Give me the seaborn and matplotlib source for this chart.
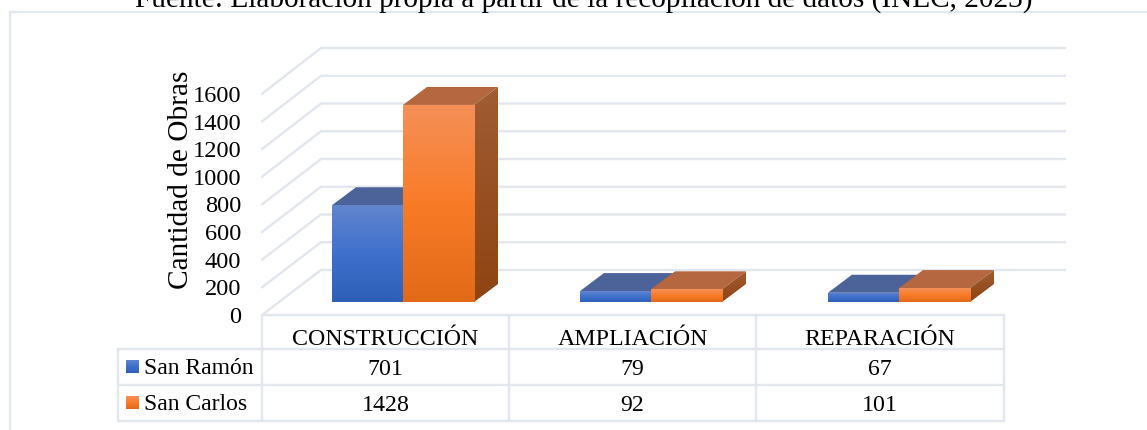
import matplotlib.pyplot as plt
import numpy as np
import pandas as pd
import seaborn as sns
from matplotlib.colors import LinearSegmentedColormap
from matplotlib.patches import Polygon, Rectangle

categories = ["CONSTRUCCIÓN", "AMPLIACIÓN", "REPARACIÓN"]
san_ramon = [701, 79, 67]
san_carlos = [1428, 92, 101]
series_names = ["San Ramón", "San Carlos"]
y_ticks = [0, 200, 400, 600, 800, 1000, 1200, 1400, 1600]
source_text = "Fuente: Elaboración propia a partir de la recopilación de datos (INEC, 2023)"

W, H = 1147, 430
GRID = "#E2E6ED"
LW = 1.7
FRONT = {
    "San Ramón": ["#2E60B8", "#3F70CC", "#6285CE"],
    "San Carlos": ["#E26A17", "#F97B28", "#F59058"],
}
TOP = {"San Ramón": "#4C6399", "San Carlos": "#B5683F"}
SIDE = {"San Ramón": ["#1F4279", "#34568E"], "San Carlos": ["#8F4412", "#A05C33"]}

sns.set_theme(style="white")
plt.rcParams["font.family"] = ["Liberation Serif", "DejaVu Serif"]


def px_axes(fig, left, top, right, bottom, **kw):
    # axes placed by image pixels, y counted from the top
    return fig.add_axes(
        [left / W, 1 - bottom / H, (right - left) / W, (bottom - top) / H], **kw
    )


def gradient(ax, colors, extent, clip, zorder):
    cmap = LinearSegmentedColormap.from_list("g", colors)
    im = ax.imshow(
        np.linspace(1, 0, 64).reshape(-1, 1),
        cmap=cmap,
        extent=extent,
        aspect="auto",
        zorder=zorder,
        vmin=0,
        vmax=1,
    )
    im.set_clip_path(clip)


fig = plt.figure(figsize=(W / 100, H / 100), dpi=100, facecolor="white")

# background in pixel coordinates: frame, walls, table
bg = px_axes(fig, 0, 0, W, H)
bg.set_xlim(0, W)
bg.set_ylim(H, 0)
bg.axis("off")

# frame runs off the right and bottom of the picture
bg.plot([10, 10, W], [H, 11.5, 11.5], color=GRID, lw=LW, solid_joinstyle="miter")
# the source line is cut by the top edge in the original too
bg.text(584, 6.5, source_text, ha="center", va="baseline", fontsize=16.3 * 898 / 695, color="black", clip_on=False)

for i, tick in enumerate(y_ticks):
    front_y = 315 - i * 27.65
    back_y = 270 - i * 27.75
    bg.plot([262, 321, 1065], [front_y, back_y, back_y], color=GRID, lw=LW, solid_joinstyle="miter")

# table
table_x = [262, 509, 756, 1004]
table_y = [315, 349, 385, 420.5]
for x in table_x:
    bg.plot([x, x], [table_y[0], table_y[-1]], color=GRID, lw=LW)
bg.plot([118, 118], [table_y[1], table_y[-1]], color=GRID, lw=LW)
bg.plot([262, 1004], [table_y[0], table_y[0]], color=GRID, lw=LW)
for y in table_y[1:]:
    bg.plot([118, 1004], [y, y], color=GRID, lw=LW)

for i, cat in enumerate(categories):
    xc = (table_x[i] + table_x[i + 1]) / 2
    bg.text(xc, 337, cat, ha="center", va="center_baseline", fontsize=17.2, color="black")
    bg.text(xc, 367, str(san_ramon[i]), ha="center", va="center_baseline", fontsize=17.2, color="black")
    bg.text(xc, 403, str(san_carlos[i]), ha="center", va="center_baseline", fontsize=17.2, color="black")

for name, y in zip(series_names, [366, 402]):
    swatch = Rectangle((126, y - 6), 13, 13, fc="none", ec="none")
    bg.add_patch(swatch)
    gradient(bg, FRONT[name], (126, 139, y + 7, y - 6), swatch, 3)
    bg.text(144, y, name, ha="left", va="center_baseline", fontsize=17, color="black")
bg.set_xlim(0, W)
bg.set_ylim(H, 0)

# front plane: only carries the value axis
front = px_axes(fig, 262, 94, 300, 315)
front.patch.set_alpha(0)
front.set_ylim(0, 1600)
front.set_yticks(y_ticks)
front.set_xticks([])
front.tick_params(axis="y", length=0, pad=15, labelsize=17.6, labelcolor="black")
front.set_ylabel("Cantidad de Obras", fontsize=21.2, color="black", labelpad=2)
front.yaxis.set_label_coords(-68 / 38, 0.61)
sns.despine(ax=front, left=True, bottom=True)

# bars stand a little behind the front plane
ax = px_axes(fig, 279, 81.2, 1023, 302)
ax.patch.set_alpha(0)

df = pd.DataFrame(
    {
        "categoria": categories * 2,
        "obras": san_ramon + san_carlos,
        "canton": [series_names[0]] * 3 + [series_names[1]] * 3,
    }
)
sns.barplot(
    data=df,
    x="categoria",
    y="obras",
    hue="canton",
    hue_order=series_names,
    palette=[FRONT[n][1] for n in series_names],
    width=0.573,
    gap=0,
    legend=False,
    ax=ax,
)
ax.set_xlim(-0.5, 2.5)
ax.set_ylim(0, 1600)
ax.axis("off")

depth_x = 24 / 248
depth_y = 18 / (220.8 / 1600)

for n, (container, name) in enumerate(zip(ax.containers, series_names)):
    for bar in container:
        x0, w, h = bar.get_x(), bar.get_width(), bar.get_height()
        # groups stack left to right, orange sits over blue
        z = 2 + n * 4
        ax.add_patch(
            Polygon(
                [(x0, h), (x0 + w, h), (x0 + w + depth_x, h + depth_y), (x0 + depth_x, h + depth_y)],
                fc=TOP[name],
                ec="none",
                zorder=z,
                clip_on=False,
            )
        )
        side = Polygon(
            [(x0 + w, 0), (x0 + w + depth_x, depth_y), (x0 + w + depth_x, h + depth_y), (x0 + w, h)],
            fc="none",
            ec="none",
            transform=ax.transData,
        )
        ax.add_patch(side)
        gradient(ax, SIDE[name], (x0 + w, x0 + w + depth_x, 0, h + depth_y), side, z + 1)
        bar.set_zorder(z + 2)
        bar.set_edgecolor("none")
        gradient(ax, FRONT[name], (x0, x0 + w, 0, h), bar, z + 3)
ax.set_xlim(-0.5, 2.5)
ax.set_ylim(0, 1600)

fig.savefig("out.png", dpi=100)
